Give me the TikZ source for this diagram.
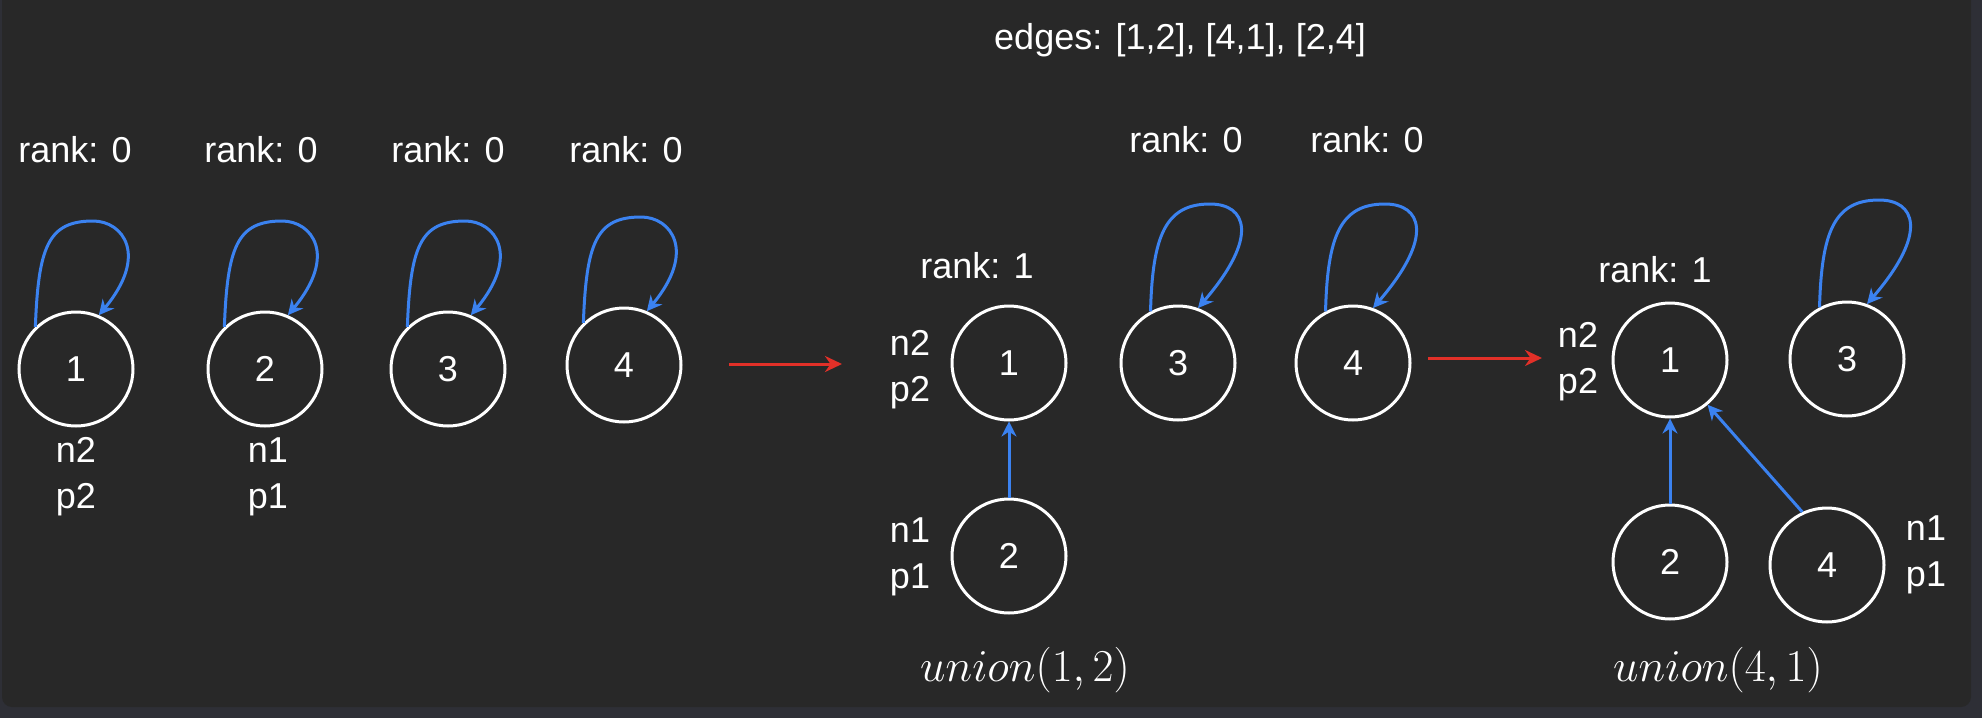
\RequirePackage{fix-cm}
\documentclass[tikz,border=0pt]{standalone}
\usepackage[no-math]{fontspec}
\usepackage{amssymb, amsmath}
\usepackage{tikz}
\usetikzlibrary{arrows.meta}
\newfontfamily\arialfont{Liberation Sans}
\definecolor{frame}{RGB}{46, 47, 54}
\definecolor{panel}{RGB}{40, 40, 40}
\definecolor{blueedge}{RGB}{59, 130, 240}
\definecolor{redarrow}{RGB}{226, 48, 40}

\begin{document}
\begin{tikzpicture}[x=0.5pt, y=-0.5pt,
    vertex/.style={circle, draw=white, line width=1.5pt, minimum size=57pt, inner sep=0pt,
      text=white, font={\arialfont\fontsize{18}{22}\selectfont}},
    lbl/.style={text=white, align=center, font={\arialfont\fontsize{18}{23}\selectfont}},
    opname/.style={text=white, font={\fontsize{22.8}{27}\selectfont}},
    loopedge/.style={blueedge, line width=1.5pt, -{Stealth[length=7.5pt, width=7.5pt]}},
    treeedge/.style={blueedge, line width=1.5pt, -{Stealth[length=7.5pt, width=7.5pt]}},
    steparrow/.style={redarrow, line width=1.5pt, -{Stealth[length=8.5pt, width=8pt]}}]

  \useasboundingbox (0, 0) rectangle (1982, 718);
  \fill[frame] (0, 0) rectangle (1982, 718);
  \fill[panel, rounded corners=5pt] (2, -20) rectangle (1971, 707);

  \node[lbl] (edges) at (1185, 40) { edges: [1,2], [4,1], [2,4] };

  % four single sets
  \node[vertex] (a1) at (76, 369) {1};
  \node[vertex] (a2) at (265, 369) {2};
  \node[vertex] (a3) at (448, 369) {3};
  \node[vertex] (a4) at (624, 365) {4};

  \node[lbl] (ra1) at (80, 150) { rank: 0 };
  \node[lbl] (ra2) at (266, 150) { rank: 0 };
  \node[lbl] (ra3) at (453, 150) { rank: 0 };
  \node[lbl] (ra4) at (631, 150) { rank: 0 };

  \node[lbl] (na1) at (76, 477) { n2\\p2 };
  \node[lbl] (na2) at (268, 477) { n1\\p1 };

  \foreach \n in {a1, a2, a3, a4}
    \draw[loopedge] (\n.134) .. controls +(3, -80) and +(-45, 0) .. ([shift={(17, -148)}]\n.center)
      .. controls +(30, 0) and +(50, -60) .. (\n.67);

  \coordinate (s1) at (729, 364);
  \coordinate (t1) at (842, 364);
  \draw[steparrow] (s1) -- (t1);

  % after union(1,2)
  \node[vertex] (b1) at (1009, 363) {1};
  \node[vertex] (b2) at (1009, 556) {2};
  \node[vertex] (b3) at (1178, 363) {3};
  \node[vertex] (b4) at (1353, 363) {4};

  \node[lbl] (rb1) at (982, 266) { rank: 1 };
  \node[lbl] (rb3) at (1191, 140) { rank: 0 };
  \node[lbl] (rb4) at (1372, 140) { rank: 0 };

  \node[lbl] (nb1) at (910, 370) { n2\\p2 };
  \node[lbl] (nb2) at (910, 557) { n1\\p1 };

  \draw[treeedge] (b2) -- (b1);
  \node[opname] (ub) at (1025, 670) { $union(1,2)$ };

  \coordinate (s2) at (1428, 358);
  \coordinate (t2) at (1542, 358);
  \draw[steparrow] (s2) -- (t2);

  % after union(4,1)
  \node[vertex] (c1) at (1670, 360) {1};
  \node[vertex] (c2) at (1670, 562) {2};
  \node[vertex] (c3) at (1847, 359) {3};
  \node[vertex] (c4) at (1827, 565) {4};

  \node[lbl] (rc1) at (1660, 270) { rank: 1 };
  \node[lbl] (nc1) at (1578, 362) { n2\\p2 };
  \node[lbl] (nc4) at (1926, 555) { n1\\p1 };

  \draw[treeedge] (c2) -- (c1);
  \draw[treeedge] (c4.115) -- (c1.-50);
  \node[opname] (uc) at (1718, 670) { $union(4,1)$ };

  \foreach \n in {b3, b4, c3}
    \draw[loopedge] (\n.118) .. controls +(2, -75) and +(-45, 0) .. ([shift={(32, -159)}]\n.center)
      .. controls +(36, 0) and +(62, -72) .. (\n.70);

\end{tikzpicture}
\end{document}
